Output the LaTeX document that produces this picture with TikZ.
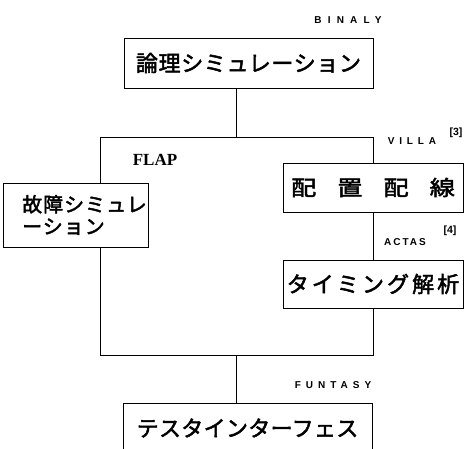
\documentclass[tikz,border=0pt]{standalone}
\usepackage{fontspec}
\setmainfont{Liberation Serif}
\newfontfamily\cjk{Noto Sans CJK JP}[FakeBold=2.2]
\newfontfamily\lab{Liberation Sans}
\begin{document}
\begin{tikzpicture}[x=1pt,y=-1pt,
  box/.style={draw, line width=1pt, fill=white, inner sep=0pt, anchor=center},
  jtext/.style={font=\fontsize{22pt}{22pt}\cjk},
  tag/.style={font=\fontsize{10pt}{10pt}\lab\bfseries\addfontfeature{LetterSpace=#1}, inner sep=0pt, anchor=center},
  sup/.style={font=\fontsize{10.5pt}{10.5pt}\lab\bfseries, inner sep=0pt, anchor=center},
  conn/.style={line width=1pt}]
\useasboundingbox (0,0) rectangle (469,448);
\clip (0,0) rectangle (469,448);
% FLAP container
\node[draw, line width=1pt, minimum width=273pt, minimum height=218pt, inner sep=0pt] (flap) at (236.5,246) {};
\node[font=\fontsize{17pt}{17pt}\selectfont\bfseries, inner sep=0pt] (flaplabel) at (155,160) {FLAP};
% top box
\node[box, jtext, minimum width=249pt, minimum height=50pt] (logic) at (248.5,63)
  {\addfontfeature{LetterSpace=3}論理シミュレーション};
\node[tag=62] (binaly) at (348,20.5) {BINALY};
% fault simulation
\node[box, minimum width=145pt, minimum height=64pt, align=left,
  font=\fontsize{20pt}{22pt}\cjk\addfontfeature{LetterSpace=5}] (fault) at (75.5,215)
  {\hspace*{18pt}故障シミュレ\\\hspace*{18pt}ーション};
% placement and routing
\node[box, minimum width=180pt, minimum height=49pt,
  font=\fontsize{21pt}{21pt}\cjk\addfontfeature{FakeStretch=1.2}] (place) at (373,187.5)
  {配\hspace{21pt}置\hspace{21pt}配\hspace{21pt}線};
\node[tag=48] (villa) at (412,141.5) {VILLA};
\node[sup] (villaref) at (456,133) {[3]};
% timing
\node[box, jtext, minimum width=180pt, minimum height=48pt] (timing) at (373,284)
  {\addfontfeature{LetterSpace=14}タイミング解析};
\node[tag=20] (actas) at (405,242) {ACTAS};
\node[sup] (actasref) at (450,231) {[4]};
% bottom box
\node[box, jtext, minimum width=249pt, minimum height=50pt] (test) at (247.5,428)
  {\addfontfeature{LetterSpace=1.5}テスタインターフェス};
\node[tag=50] (funtasy) at (333,385.5) {FUNTASY};
% connectors
\draw[conn] (logic.south -| flap.north) -- (flap.north);
\draw[conn] (flap.south) -- (flap.south |- test.north);
\end{tikzpicture}
\end{document}
